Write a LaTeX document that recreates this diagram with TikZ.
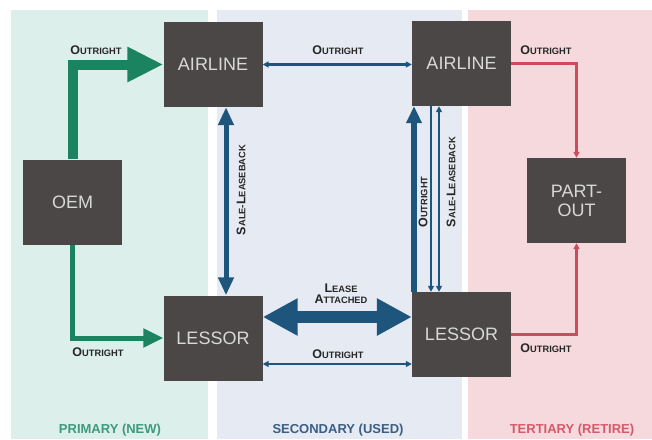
\documentclass[tikz,border=0pt]{standalone}
\usepackage{fontspec}
\setmainfont{Liberation Sans}
\usetikzlibrary{arrows.meta}
\definecolor{pgreen}{HTML}{DDEFEA}
\definecolor{pblue}{HTML}{E6EAF2}
\definecolor{pred}{HTML}{F5D9DC}
\definecolor{boxc}{HTML}{4B4747}
\definecolor{boxt}{HTML}{D8D8D8}
\definecolor{agreen}{HTML}{1B8360}
\definecolor{ablue}{HTML}{1D557D}
\definecolor{ared}{HTML}{CC4B5C}
\definecolor{lgreen}{HTML}{3E9A7C}
\definecolor{lblue}{HTML}{3B5E86}
\definecolor{lred}{HTML}{D45A6B}
\newcommand\scl[2]{{\fontsize{12.5}{12}\selectfont #1}{\fontsize{9.3}{10}\selectfont #2}}
\tikzset{
  ent/.style={fill=boxc, text=boxt, minimum width=99pt, minimum height=85pt, inner sep=0pt, align=center, font=\fontsize{18}{19}\selectfont},
  lab/.style={font=\bfseries, text=black!85, inner sep=0pt, align=center},
  bot/.style={font=\bfseries\fontsize{13}{14}\selectfont, inner sep=0pt},
  thin/.style={draw=ablue, line width=2.2pt},
}
\begin{document}
\begin{tikzpicture}[x=1pt,y=-1pt]
\useasboundingbox (0,0) rectangle (652,439);
\fill[white] (0,0) rectangle (652,439);
\fill[pgreen] (11,10) rectangle (208,439);
\fill[pblue] (217,10) rectangle (462,439);
\fill[pred] (468,10) rectangle (652,439);

\node[ent] (airL) at (213,64.5) {AIRLINE};
\node[ent] (oem) at (72.5,202) {OEM};
\node[ent] (lesL) at (213,338) {LESSOR};
\node[ent] (airR) at (461.5,63.5) {AIRLINE};
\node[ent] (lesR) at (461.5,334.5) {LESSOR};
\node[ent] (pout) at (576.5,200.5) {PART-\\OUT};

% green
\draw[agreen, line width=10pt, line join=miter, -{Triangle[length=36pt,width=33pt]}] (oem.north) |- (airL.west);
\draw[agreen, line width=5pt, line join=miter, -{Triangle[length=20pt,width=18pt]}] (oem.south) |- (lesL.west);

% blue
\draw[thin, {Triangle[length=6pt,width=6pt]}-{Triangle[length=6pt,width=6pt]}] (airL.east) -- (airL.east -| airR.west);
\draw[ablue, line width=5pt, {Triangle[length=18pt,width=15pt]}-{Triangle[length=18pt,width=15pt]}] ([xshift=13pt]airL.south) -- ([xshift=13pt]lesL.north);
\draw[ablue, line width=12pt, {Triangle[length=35pt,width=35pt]}-{Triangle[length=35pt,width=35pt]}] ([yshift=21pt]lesL.east) coordinate (la) -- (la -| lesR.west);
\draw[thin, {Triangle[length=6pt,width=6pt]}-{Triangle[length=6pt,width=6pt]}] ([yshift=-26pt]lesL.east) coordinate (lb) -- (lb -| lesR.west);
\draw[ablue, line width=6pt, -{Triangle[length=17pt,width=15pt]}] ([xshift=-47.5pt]lesR.north) -- ([xshift=-47.5pt]airR.south);
\draw[thin, -{Triangle[length=6pt,width=6pt]}] ([xshift=-30.5pt]airR.south) -- ([xshift=-30.5pt]lesR.north);
\draw[thin, {Triangle[length=6pt,width=6pt]}-{Triangle[length=6pt,width=6pt]}] ([xshift=-22.5pt]lesR.north) -- ([xshift=-22.5pt]airR.south);

% red
\draw[ared, line width=2.2pt, -{Triangle[length=6pt,width=6pt]}] (airR.east) -| (pout.north);
\draw[ared, line width=2.2pt, -{Triangle[length=6pt,width=6pt]}] (lesR.east) -| (pout.south);

% labels
\node[lab] (l1) at (96,50) {\scl{O}{UTRIGHT}};
\node[lab] (l2) at (98,352) {\scl{O}{UTRIGHT}};
\node[lab] (l3) at (338,50) {\scl{O}{UTRIGHT}};
\node[lab] (l4) at (341,294) {\scl{L}{EASE}\\[-1pt]\scl{A}{TTACHED}};
\node[lab] (l5) at (338,354) {\scl{O}{UTRIGHT}};
\node[lab, rotate=90] (l6) at (241,190) {\scl{S}{ALE}-\scl{L}{EASEBACK}};
\node[lab, rotate=90] (l7) at (423,202) {\scl{O}{UTRIGHT}};
\node[lab, rotate=90] (l8) at (451,182) {\scl{S}{ALE}-\scl{L}{EASEBACK}};
\node[lab] (l9) at (546,50) {\scl{O}{UTRIGHT}};
\node[lab] (l10) at (546,348) {\scl{O}{UTRIGHT}};

\node[bot, text=lgreen] (b1) at (110,430) {PRIMARY (NEW)};
\node[bot, text=lblue] (b2) at (338,430) {SECONDARY (USED)};
\node[bot, text=lred] (b3) at (572,430) {TERTIARY (RETIRE)};
\end{tikzpicture}
\end{document}
